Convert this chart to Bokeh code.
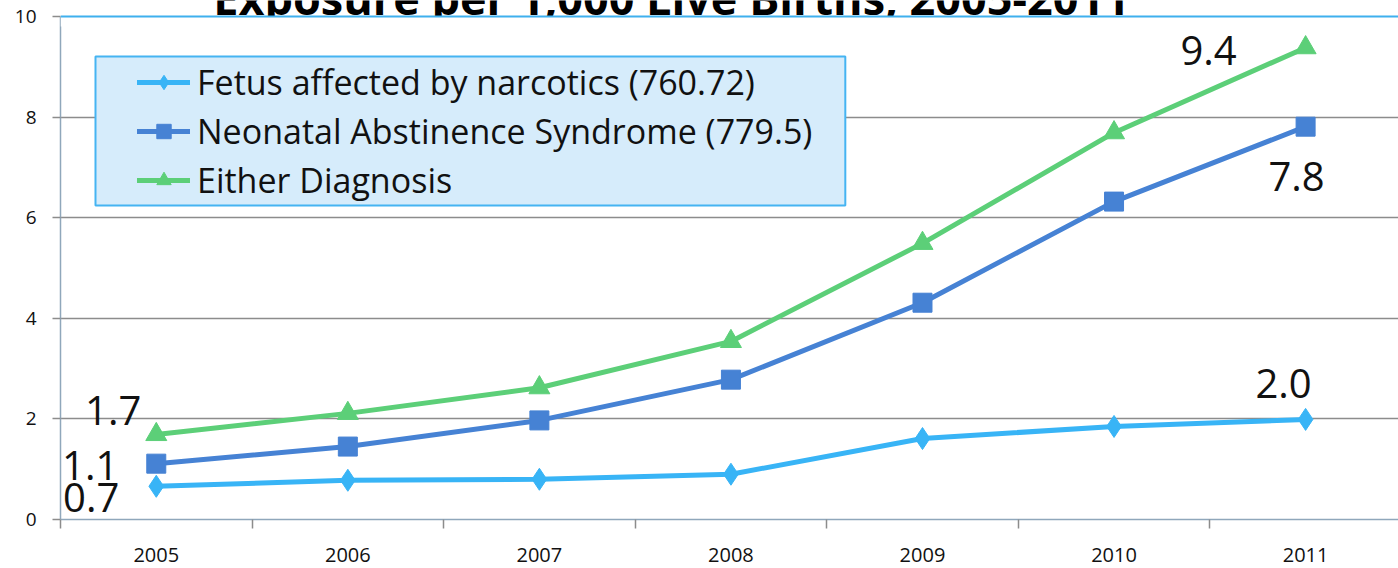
from bokeh.plotting import figure
from bokeh.models import (Range1d, FixedTicker, Span, Label, Legend, LegendItem,
                          BoxAnnotation)
from bokeh.embed import file_html
from bokeh.resources import INLINE

# Rates per 1,000 live births
years = ["2005", "2006", "2007", "2008", "2009", "2010", "2011"]
fetus = [0.66, 0.78, 0.80, 0.90, 1.61, 1.85, 1.99]
nas = [1.11, 1.45, 1.97, 2.78, 4.31, 6.32, 7.81]
either = [1.69, 2.11, 2.62, 3.54, 5.49, 7.69, 9.38]

series_names = ["Fetus affected by narcotics (760.72)",
                "Neonatal Abstinence Syndrome (779.5)",
                "Either Diagnosis"]
y_ticks = [0, 2, 4, 6, 8, 10]

FONT = "Open Sans"
C_FETUS = "#38b4f6"
C_NAS = "#4682d4"
C_EITHER = "#5ccf78"

xs = [i + 0.5 for i in range(len(years))]

# the y range runs a little past 10 so the title strip sits inside the frame
p = figure(width=1398, height=568, x_range=Range1d(0, 6.985),
           y_range=Range1d(0, 10 + 16 / 50.3), output_backend="svg",
           toolbar_location=None, min_border_left=60, min_border_right=0,
           min_border_top=0, min_border_bottom=49)
p.outline_line_color = None
p.background_fill_color = "white"
p.border_fill_color = "white"

# axes
p.xaxis.ticker = FixedTicker(ticks=xs, minor_ticks=list(range(len(years) + 1)))
p.xaxis.major_label_overrides = {x: y for x, y in zip(xs, years)}
p.xaxis.major_tick_out = 0
p.xaxis.major_tick_in = 0
p.xaxis.minor_tick_out = 9
p.xaxis.minor_tick_in = 0
p.xaxis.minor_tick_line_color = "#8c8c8c"
p.xaxis.minor_tick_line_width = 1.5
p.xaxis.major_label_standoff = 19
p.xaxis.major_label_text_font = FONT
p.xaxis.major_label_text_font_size = "20px"
p.xaxis.major_label_text_color = "#111111"

p.yaxis.ticker = FixedTicker(ticks=y_ticks, minor_ticks=[])
p.yaxis.bounds = (0, 10)
p.yaxis.major_tick_out = 8
p.yaxis.major_tick_in = 0
p.yaxis.major_tick_line_color = "#8c8c8c"
p.yaxis.major_tick_line_width = 1.5
p.yaxis.major_label_standoff = 16
p.yaxis.major_label_text_font = FONT
p.yaxis.major_label_text_font_size = "19px"
p.yaxis.major_label_text_color = "#111111"

for ax in (p.xaxis, p.yaxis):
    ax.axis_line_color = "#8fa7bb"
    ax.axis_line_width = 1.5

p.xgrid.visible = False
p.ygrid.ticker = FixedTicker(ticks=y_ticks[1:-1])
p.ygrid.grid_line_color = "#8c8c8c"
p.ygrid.grid_line_width = 1.5

# chart title, running off the top edge
p.add_layout(Label(x=3.19, y=10, y_offset=19,
                   text="Exposure per 1,000 Live Births, 2005-2011",
                   text_align="center", text_baseline="middle",
                   text_font=FONT, text_font_style="bold",
                   text_font_size="45px", text_color="#000000"))
# the plot area hides whatever of the title dips below its top edge
p.add_layout(BoxAnnotation(bottom=9.8, top=10, fill_color="white",
                           fill_alpha=1.0, line_alpha=0))
p.add_layout(Span(location=10, dimension="width", line_color="#3fb0ee",
                  line_width=2))

# legend panel
p.add_layout(BoxAnnotation(left=(95 - 60) / 191.6, right=(845 - 60) / 191.6,
                           top=(519 - 56) / 50.3, bottom=(519 - 205) / 50.3,
                           fill_color="#d6ecfb", fill_alpha=1.0,
                           line_color="#45b4f2", line_alpha=1.0,
                           line_width=2))

specs = [
    (fetus, C_FETUS, "diamond", 22),
    (nas, C_NAS, "square", 19),
    (either, C_EITHER, "triangle", 21),
]
items = []
for (vals, color, marker, size), name in zip(specs, series_names):
    ln = p.line(xs, vals, line_color=color, line_width=5, line_cap="round")
    sc = p.scatter(xs, vals, marker=marker, size=size, fill_color=color,
                   line_color=color)
    items.append(LegendItem(label=name, renderers=[ln, sc]))

legend = Legend(items=items, location=(77, 316), padding=0, margin=0,
                background_fill_alpha=0, border_line_color=None,
                glyph_width=53, glyph_height=36, label_height=36,
                spacing=3, label_standoff=7,
                label_text_font=FONT, label_text_font_size="34px",
                label_text_color="#111111")
p.add_layout(legend)

# value call-outs at the ends of the series
callouts = [
    (0, fetus, "right", -37, -11),
    (0, nas, "right", -38, -2),
    (0, either, "right", -15, 24),
    (6, fetus, "center", -22, 36),
    (6, either, "center", -97, -3),
    (6, nas, "center", -9, -50),
]
for idx, vals, align, dx, dy in callouts:
    p.add_layout(Label(x=xs[idx], y=vals[idx], text=f"{vals[idx]:.1f}",
                       x_offset=dx, y_offset=dy, text_align=align,
                       text_baseline="middle", text_font=FONT,
                       text_font_size="40px", text_color="#111111"))

open("out.html", "w").write(file_html(p, INLINE))
